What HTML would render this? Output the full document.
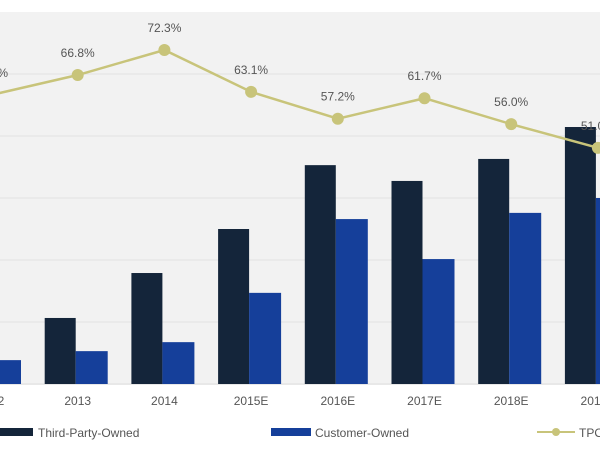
<!DOCTYPE html>
<html><head><meta charset="utf-8"><style>
html,body{margin:0;padding:0;background:#fff;width:600px;height:450px;overflow:hidden;font-family:"Liberation Sans",sans-serif}
</style></head><body>
<svg id="chart" width="600" height="450" xmlns="http://www.w3.org/2000/svg">
<rect x="0" y="12" width="600" height="373" fill="#f2f2f2"/>
<g id="grid"></g><g id="bars"></g><g id="line"></g><g id="xlabels"></g>
<g>
<rect x="0" y="428" width="33" height="8" fill="#14253a"/>
<text x="38" y="437" font-size="12" fill="#555">Third-Party-Owned</text>
<rect x="271" y="428" width="40" height="8" fill="#153f9a"/>
<text x="315" y="437" font-size="12" fill="#555">Customer-Owned</text>
<line x1="537" y1="432" x2="575" y2="432" stroke="#c8c47a" stroke-width="2"/>
<circle cx="556" cy="432" r="4" fill="#c8c47a"/>
<text x="579" y="437" font-size="12" fill="#555">TPO Share</text>
</g>
</svg>
<script>
const categories=["2012","2013","2014","2015E","2016E","2017E","2018E","2019E"];
const thirdParty=[250,213,358,500,706,655,726,829];
const customer=[77,106,135,294,532,403,552,600];
const tpoShare=[62.4,66.8,72.3,63.1,57.2,61.7,56.0,50.8];
const shareLabels=["62.4%","66.8%","72.3%","63.1%","57.2%","61.7%","56.0%","51.0%"];
const gridTicks=[0,200,400,600,800,1000];
const NS="http://www.w3.org/2000/svg";
const base=384,pxPerUnit=62/200;
const xC=i=>-9+i*86.7;
const yV=v=>base-v*pxPerUnit;
const yP=p=>50+(72.3-p)*4.55;
function mk(tag,attrs,parent){const e=document.createElementNS(NS,tag);for(const k in attrs)e.setAttribute(k,attrs[k]);parent.appendChild(e);return e;}
const grid=document.getElementById('grid');
gridTicks.forEach(t=>{const l=mk('line',{x1:0,x2:600,y1:yV(t),y2:yV(t),stroke:t===0?'#ddd':'#e2e2e2','stroke-width':1},grid);

});
const bars=document.getElementById('bars');
categories.forEach((c,i)=>{
const a=mk('rect',{x:xC(i)-33,y:yV(thirdParty[i]),width:31,height:base-yV(thirdParty[i]),fill:'#14253a'},bars);


const b=mk('rect',{x:xC(i)-2,y:yV(customer[i]),width:32,height:base-yV(customer[i]),fill:'#153f9a'},bars);


});
const line=document.getElementById('line');
const pl=mk('polyline',{points:tpoShare.map((p,i)=>xC(i)+','+yP(p)).join(' '),fill:'none',stroke:'#c8c47a','stroke-width':2.5},line);


tpoShare.forEach((p,i)=>{
const c=mk('circle',{cx:xC(i),cy:yP(p),r:6,fill:'#c8c47a'},line);


const t=mk('text',{x:xC(i),y:yP(p)-18,'font-size':12,fill:'#555','text-anchor':'middle'},line);
t.textContent=shareLabels[i];


});
const xl=document.getElementById('xlabels');
categories.forEach((c,i)=>{const t=mk('text',{x:xC(i),y:405,'font-size':12,fill:'#555','text-anchor':'middle'},xl);
t.textContent=c;

});
</script>
</body></html>
